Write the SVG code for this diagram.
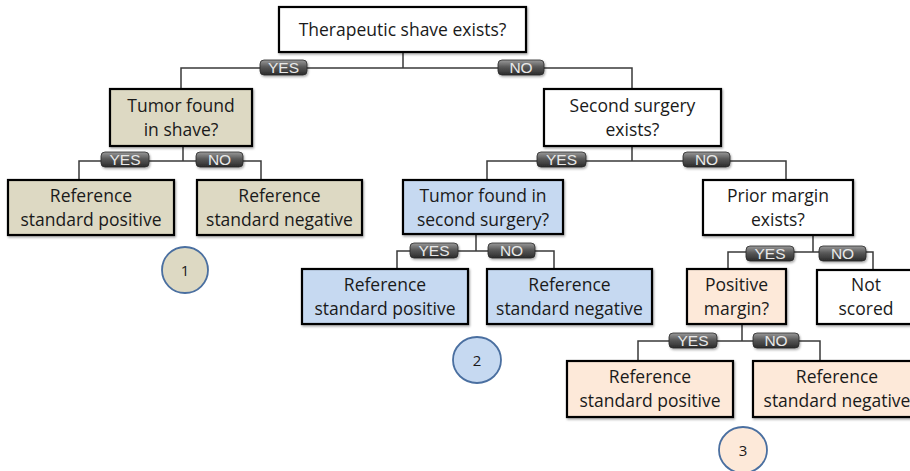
<svg xmlns="http://www.w3.org/2000/svg" width="910" height="471" viewBox="0 0 910 471">
<defs>
<linearGradient id="lg" x1="0" y1="0" x2="0" y2="1">
<stop offset="0" stop-color="#9a9a9a"/>
<stop offset="0.45" stop-color="#5a5a5a"/>
<stop offset="1" stop-color="#2b2b2b"/>
</linearGradient>
<filter id="sh" x="-10%" y="-10%" width="130%" height="140%">
<feDropShadow dx="1" dy="1.5" stdDeviation="1" flood-color="#000" flood-opacity="0.35"/>
</filter>
</defs>
<style>
.box{stroke:#000;stroke-width:2.2;filter:url(#sh)}
.w{fill:#fff}.tan{fill:#ddd9c3}.blue{fill:#c6d9f1}.peach{fill:#fde9d9}
.t{font-family:"Open Sans","Liberation Sans",sans-serif;font-size:17.5px;fill:#1a1a1a;text-anchor:middle}
.conn{fill:none;stroke:#3a3a3a;stroke-width:1.5}
.lab rect{fill:url(#lg);stroke:#2a2a2a;stroke-width:0.8;filter:url(#sh)}
.lab text{font-family:"Liberation Sans Narrow","Liberation Sans",sans-serif;font-size:15.5px;fill:#e8e8e8;text-anchor:middle}
.circ{stroke:#4a6fa0;stroke-width:1.8}
.cn{font-family:"Open Sans","Liberation Sans",sans-serif;font-size:15px;fill:#1a1a1a;text-anchor:middle}
</style>
<g id="connectors">
<path class="conn" d="M403,52 V68 M181,89 V68 H632 V89"/>
<path class="conn" d="M183,146 V161 M79,180 V161 H261 V180"/>
<path class="conn" d="M632,146 V161 M487,180 V161 H786 V180"/>
<path class="conn" d="M476,234 V251 M397,269 V251 H554 V269"/>
<path class="conn" d="M813,235 V252 M728,269 V252 H873 V270"/>
<path class="conn" d="M742,324 V341 M638,361 V341 H820 V361"/>
<g class="lab"><rect x="260" y="60" width="47" height="15" rx="4"/><text x="283.5" y="73">YES</text></g>
<g class="lab"><rect x="498" y="60" width="46" height="15" rx="4"/><text x="521" y="73">NO</text></g>
<g class="lab"><rect x="101" y="152" width="48" height="15" rx="4"/><text x="125" y="165">YES</text></g>
<g class="lab"><rect x="196" y="152" width="47" height="15" rx="4"/><text x="219.5" y="165">NO</text></g>
<g class="lab"><rect x="537" y="152" width="49" height="15" rx="4"/><text x="561.5" y="165">YES</text></g>
<g class="lab"><rect x="683" y="152" width="47" height="15" rx="4"/><text x="706.5" y="165">NO</text></g>
<g class="lab"><rect x="410" y="243" width="48" height="15" rx="4"/><text x="434" y="256">YES</text></g>
<g class="lab"><rect x="488" y="243" width="47" height="15" rx="4"/><text x="511.5" y="256">NO</text></g>
<g class="lab"><rect x="746" y="246" width="48" height="15" rx="4"/><text x="770" y="259">YES</text></g>
<g class="lab"><rect x="819" y="246" width="47" height="15" rx="4"/><text x="842.5" y="259">NO</text></g>
<g class="lab"><rect x="669" y="333" width="48" height="15" rx="4"/><text x="693" y="346">YES</text></g>
<g class="lab"><rect x="753" y="333" width="46" height="15" rx="4"/><text x="776" y="346">NO</text></g>
</g>
<g id="n-root"><rect class="box w" x="279" y="7" width="247" height="45"/><text class="t" x="402.5" y="36">Therapeutic shave exists?</text></g>
<g id="n-shave"><rect class="box tan" x="110" y="89" width="142" height="57"/><text class="t" x="181" y="112">Tumor found</text><text class="t" x="181" y="136">in shave?</text></g>
<g id="n-shave-pos"><rect class="box tan" x="8" y="180" width="166" height="55"/><text class="t" x="91" y="202">Reference</text><text class="t" x="91" y="226">standard positive</text></g>
<g id="n-shave-neg"><rect class="box tan" x="197" y="180" width="165" height="55"/><text class="t" x="279.5" y="202">Reference</text><text class="t" x="279.5" y="226">standard negative</text></g>
<g id="n-second"><rect class="box w" x="544" y="89" width="177" height="57"/><text class="t" x="632.5" y="112">Second surgery</text><text class="t" x="632.5" y="136">exists?</text></g>
<g id="n-tumor2"><rect class="box blue" x="403" y="180" width="160" height="54"/><text class="t" x="483" y="202">Tumor found in</text><text class="t" x="483" y="226">second surgery?</text></g>
<g id="n-prior"><rect class="box w" x="703" y="180" width="150" height="55"/><text class="t" x="778" y="202">Prior margin</text><text class="t" x="778" y="226">exists?</text></g>
<g id="n-s2-pos"><rect class="box blue" x="302" y="269" width="166" height="55"/><text class="t" x="385" y="291">Reference</text><text class="t" x="385" y="315">standard positive</text></g>
<g id="n-s2-neg"><rect class="box blue" x="487" y="269" width="165" height="55"/><text class="t" x="569.5" y="291">Reference</text><text class="t" x="569.5" y="315">standard negative</text></g>
<g id="n-posmargin"><rect class="box peach" x="687" y="269" width="99" height="55"/><text class="t" x="736.5" y="291">Positive</text><text class="t" x="736.5" y="315">margin?</text></g>
<g id="n-notscored"><rect class="box w" x="817" y="270" width="100" height="54"/><text class="t" x="866" y="291">Not</text><text class="t" x="866" y="315">scored</text></g>
<g id="n-m-pos"><rect class="box peach" x="567" y="361" width="166" height="56"/><text class="t" x="650" y="383">Reference</text><text class="t" x="650" y="407">standard positive</text></g>
<g id="n-m-neg"><rect class="box peach" x="753" y="361" width="168" height="56"/><text class="t" x="837" y="383">Reference</text><text class="t" x="837" y="407">standard negative</text></g>
<g id="c1"><circle class="circ tan" cx="185" cy="270" r="23"/><text class="cn" x="185" y="275.5">1</text></g>
<g id="c2"><ellipse class="circ blue" cx="477" cy="360" rx="24" ry="23"/><text class="cn" x="477" y="365.5">2</text></g>
<g id="c3"><ellipse class="circ peach" cx="743" cy="450" rx="24" ry="23"/><text class="cn" x="743" y="455.5">3</text></g>
</svg>
